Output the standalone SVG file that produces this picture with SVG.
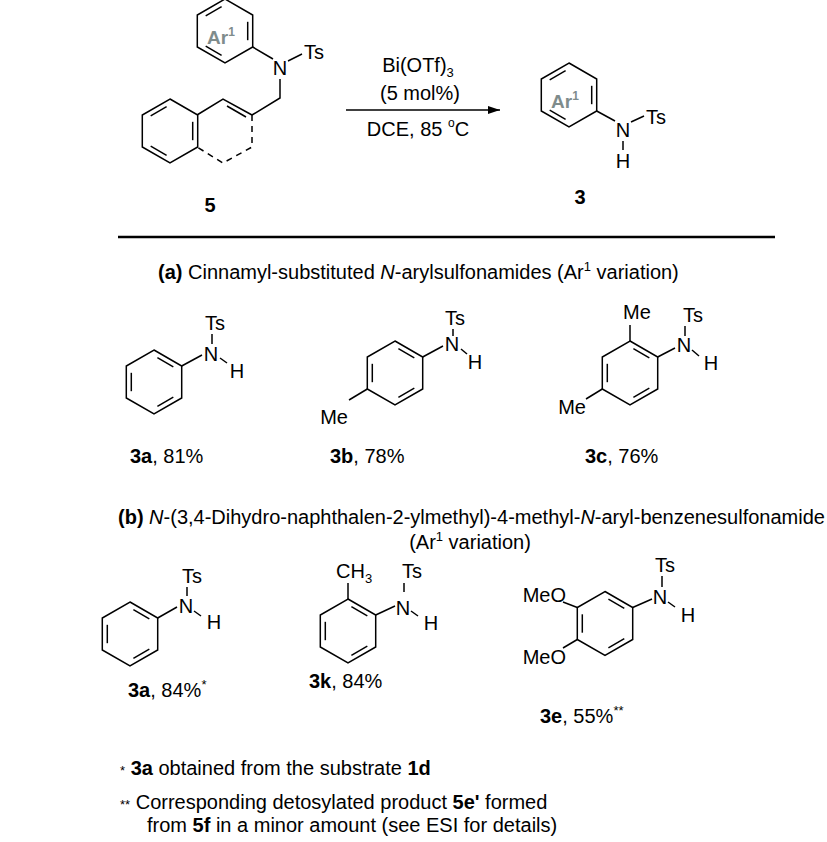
<svg xmlns="http://www.w3.org/2000/svg" width="827" height="842" viewBox="0 0 827 842">
<style>
text{font-family:"Liberation Sans",Arial,sans-serif;font-size:20px;fill:#000}
.b{font-weight:bold}
.m{text-anchor:middle}
.e{text-anchor:end}
.ar{font-weight:bold;fill:#7f8c8c;font-size:19px}
.f{font-size:20px}
line,polyline,polygon,path{stroke:#000;stroke-width:1.5;fill:none}
.d{stroke-dasharray:6,5}
</style>
<defs>
<g id="benz">
<polygon points="0,-32 27.7,-16 27.7,16 0,32 -27.7,16 -27.7,-16"/>
<line x1="-22.7" y1="-9.2" x2="-22.7" y2="9.2"/>
<line x1="3.4" y1="-24.3" x2="19.3" y2="-15.1"/>
<line x1="3.4" y1="24.3" x2="19.3" y2="15.1"/>
</g>
<g id="benz2">
<polygon points="0,-32 27.7,-16 27.7,16 0,32 -27.7,16 -27.7,-16"/>
<line x1="22.7" y1="-9.2" x2="22.7" y2="9.2"/>
<line x1="-3.4" y1="-24.3" x2="-19.3" y2="-15.1"/>
<line x1="-3.4" y1="24.3" x2="-19.3" y2="15.1"/>
</g>
<marker id="ah" viewBox="0 0 12 8" refX="12" refY="4" markerWidth="13" markerHeight="8" markerUnits="userSpaceOnUse" orient="auto">
<path d="M0,0 L12,4 L0,8 Z" style="fill:#000;stroke:none"/>
</marker>
</defs>

<g id="substrate5">
<use href="#benz2" x="225" y="31"/>
<text class="ar m" x="221" y="44">Ar<tspan font-size="12" dy="-8">1</tspan></text>
<line x1="252.7" y1="47" x2="273" y2="59"/>
<text class="m" x="280" y="75">N</text>
<line x1="288" y1="61" x2="302" y2="54"/>
<text x="304" y="59">Ts</text>
<polyline points="280,79 280,98 252,115"/>
<use href="#benz2" x="170" y="131"/>
<polyline points="197,115 223,99 252,115"/>
<line x1="227" y1="106" x2="246" y2="117"/>
<polyline class="d" points="252,115 252,147 223,163 197,147"/>
<text class="b m" x="210" y="212">5</text>
</g>

<g id="conditions">
<line x1="346" y1="110" x2="500" y2="110" marker-end="url(#ah)"/>
<text class="m" x="418" y="72">Bi(OTf)<tspan font-size="13" dy="5">3</tspan></text>
<text class="m" x="420" y="100">(5 mol%)</text>
<text class="m" x="418" y="136">DCE, 85 <tspan font-size="12" dy="-9">o</tspan><tspan dy="9">C</tspan></text>
</g>

<g id="product3">
<use href="#benz2" x="569" y="95"/>
<text class="ar m" x="565" y="108">Ar<tspan font-size="12" dy="-8">1</tspan></text>
<line x1="596.7" y1="111" x2="615" y2="121"/>
<text class="m" x="623" y="137">N</text>
<line x1="631" y1="122" x2="644" y2="116"/>
<text x="646" y="124">Ts</text>
<line x1="623" y1="141" x2="623" y2="150"/>
<text class="m" x="623" y="168">H</text>
<text class="b m" x="580" y="204">3</text>
</g>

<line x1="118" y1="237" x2="775" y2="237" style="stroke-width:2.6"/>

<text x="158" y="279"><tspan class="b">(a)</tspan> Cinnamyl-substituted <tspan font-style="italic">N</tspan>-arylsulfonamides (Ar<tspan font-size="13" dy="-8">1</tspan><tspan dy="8"> variation)</tspan></text>

<g id="c3a" transform="translate(0,12)">
<use href="#benz" x="154" y="370"/>
<line x1="181.7" y1="354" x2="202" y2="343"/>
<text class="m" x="211" y="349">N</text>
<line x1="212" y1="322" x2="212" y2="332"/>
<text class="m" x="215" y="318">Ts</text>
<line x1="220" y1="346" x2="227" y2="351"/>
<text class="m" x="237" y="366">H</text>
<text x="130" y="451"><tspan class="b">3a</tspan>, 81%</text>
</g>

<g id="c3b" transform="translate(0,12)">
<use href="#benz" x="395" y="361"/>
<line x1="422.7" y1="345" x2="443" y2="334"/>
<text class="m" x="452" y="339">N</text>
<line x1="453" y1="317" x2="453" y2="324"/>
<text class="m" x="455" y="313">Ts</text>
<line x1="461" y1="337" x2="467" y2="342"/>
<text class="m" x="475" y="357">H</text>
<line x1="367.3" y1="377" x2="349" y2="388"/>
<text class="e" x="348" y="412">Me</text>
<text x="330" y="451"><tspan class="b">3b</tspan>, 78%</text>
</g>

<g id="c3c" transform="translate(0,12)">
<use href="#benz" x="630" y="361"/>
<line x1="630" y1="329" x2="630" y2="313"/>
<text class="m" x="637" y="307">Me</text>
<line x1="657.7" y1="345" x2="675" y2="336"/>
<text class="m" x="684" y="340">N</text>
<line x1="685" y1="314" x2="685" y2="324"/>
<text class="m" x="693" y="310">Ts</text>
<line x1="692" y1="338" x2="699" y2="344"/>
<text class="m" x="711" y="358">H</text>
<line x1="602.3" y1="377" x2="586" y2="387"/>
<text class="e" x="586" y="402">Me</text>
<text x="585" y="451"><tspan class="b">3c</tspan>, 76%</text>
</g>

<text x="118" y="524"><tspan class="b">(b)</tspan> <tspan font-style="italic">N</tspan>-(3,4-Dihydro-naphthalen-2-ylmethyl)-4-methyl-<tspan font-style="italic">N</tspan>-aryl-benzenesulfonamide</text>
<text class="m" x="470" y="549">(Ar<tspan font-size="13" dy="-8">1</tspan><tspan dy="8"> variation)</tspan></text>

<g id="c3a_b">
<use href="#benz" x="130" y="634"/>
<line x1="157.7" y1="618" x2="177" y2="607"/>
<text class="m" x="186" y="613">N</text>
<line x1="187" y1="587" x2="187" y2="596"/>
<text class="m" x="192" y="583">Ts</text>
<line x1="194" y1="611" x2="201" y2="616"/>
<text class="m" x="214" y="629">H</text>
<text x="128" y="697"><tspan class="b">3a</tspan>, 84%<tspan font-size="13" dy="-8">*</tspan></text>
</g>

<g id="c3k">
<use href="#benz" x="348" y="631"/>
<line x1="348" y1="599" x2="348" y2="583"/>
<text x="336" y="578">CH<tspan font-size="13" dy="5">3</tspan></text>
<line x1="375.7" y1="615" x2="395" y2="606"/>
<text class="m" x="403" y="615">N</text>
<line x1="404" y1="583" x2="404" y2="592"/>
<text class="m" x="412" y="578">Ts</text>
<line x1="411" y1="611" x2="418" y2="616"/>
<text class="m" x="431" y="630">H</text>
<text x="309" y="688"><tspan class="b">3k</tspan>, 84%</text>
</g>

<g id="c3e">
<use href="#benz" x="605" y="623.5"/>
<line x1="632.7" y1="607.5" x2="652" y2="599"/>
<text class="m" x="660" y="604">N</text>
<line x1="662" y1="576" x2="662" y2="587"/>
<text class="m" x="665" y="572">Ts</text>
<line x1="668" y1="602" x2="675" y2="607"/>
<text class="m" x="688" y="622">H</text>
<text class="e" x="566" y="602">MeO</text>
<line x1="563" y1="602" x2="577.3" y2="607.5"/>
<text class="e" x="566" y="664">MeO</text>
<line x1="563" y1="648" x2="577.3" y2="639.5"/>
<text x="540" y="723"><tspan class="b">3e</tspan>,  55%<tspan font-size="13" dy="-8">**</tspan></text>
</g>

<g id="notes">
<text class="f" x="120" y="775"><tspan font-size="13">*</tspan>  <tspan class="b">3a</tspan> obtained from the substrate <tspan class="b">1d</tspan></text>
<text class="f" x="120" y="809"><tspan font-size="13">**</tspan> Corresponding detosylated product <tspan class="b">5e'</tspan> formed</text>
<text class="f" x="147" y="832">from <tspan class="b">5f</tspan> in a minor amount (see ESI for details)</text>
</g>
</svg>
